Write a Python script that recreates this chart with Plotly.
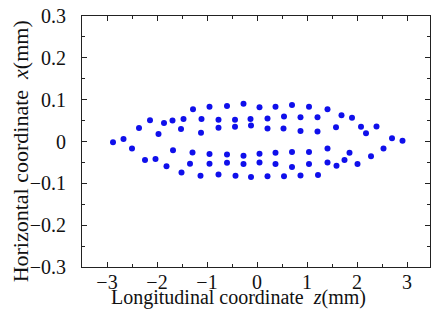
import plotly.graph_objects as go

# Longitudinal coordinate z (mm) and horizontal coordinate x (mm) of particles
z_upper = [-2.88, -2.67, -2.36, -2.14, -1.86, -1.69, -1.47, -1.28, -0.95, -0.60,
           -0.27, 0.05, 0.37, 0.70, 1.04, 1.41, 1.69, 1.90, 2.39, 2.70, 2.91,
           -1.11, -0.77, -0.44, -0.13, 0.21, 0.54, 0.87, 1.21,
           -1.97, -1.52, -1.12, -0.77, -0.44, -0.12, 0.21, 0.53, 0.87, 1.21,
           1.58, 2.08, 2.18]
x_upper = [-0.002, 0.006, 0.032, 0.051, 0.044, 0.050, 0.054, 0.077, 0.083, 0.085,
           0.090, 0.082, 0.083, 0.087, 0.083, 0.077, 0.063, 0.057, 0.036, 0.008, 0.002,
           0.054, 0.052, 0.052, 0.054, 0.055, 0.060, 0.058, 0.058,
           0.018, 0.030, 0.021, 0.033, 0.035, 0.038, 0.031, 0.031, 0.025, 0.024,
           0.034, 0.035, 0.020]
z_lower = [-2.50, -2.24, -2.03, -1.81, -1.68, -1.51, -1.34, -1.29, -1.13, -0.95,
           -0.95, -0.77, -0.60, -0.60, -0.43, -0.27, -0.27, -0.12, 0.05, 0.05,
           0.21, 0.37, 0.37, 0.54, 0.70, 0.70, 0.87, 1.04, 1.04, 1.22,
           1.41, 1.41, 1.59, 1.75, 1.85, 2.01, 2.28, 2.53]
x_lower = [-0.017, -0.044, -0.042, -0.059, -0.021, -0.074, -0.053, -0.026, -0.082, -0.030,
           -0.053, -0.079, -0.031, -0.051, -0.082, -0.034, -0.054, -0.085, -0.029, -0.050,
           -0.083, -0.027, -0.054, -0.083, -0.025, -0.061, -0.081, -0.025, -0.054, -0.080,
           -0.017, -0.050, -0.058, -0.044, -0.027, -0.054, -0.035, -0.017]

z_all = z_upper + z_lower
x_all = x_upper + x_lower

x_tickvals = [-3, -2, -1, 0, 1, 2, 3]
y_tickvals = [-0.3, -0.2, -0.1, 0, 0.1, 0.2, 0.3]
y_ticktext = ["\u22120.3", "\u22120.2", "\u22120.1", "0", "0.1", "0.2", "0.3"]
x_ticktext = ["\u22123", "\u22122", "\u22121", "0", "1", "2", "3"]

FONT = "Liberation Serif, Times New Roman, serif"

fig = go.Figure()
fig.add_trace(go.Scatter(
    x=z_all, y=x_all, mode="markers",
    marker=dict(color="rgb(15,15,235)", size=6, line=dict(width=0)),
    showlegend=False, hoverinfo="skip",
))

axis_common = dict(
    showgrid=False, zeroline=False, showline=True, linecolor="#222", linewidth=1,
    mirror="ticks", ticks="inside", ticklen=5, tickcolor="#222", tickwidth=1,
    tickfont=dict(family=FONT, size=20, color="#111"), automargin=False,
)
fig.update_xaxes(range=[-3.5, 3.46], tickvals=x_tickvals, ticktext=x_ticktext,
                 minor=dict(dtick=0.5, tick0=0, ticks="inside", ticklen=3, tickcolor="#222"),
                 ticklabelstandoff=-3,
                 **axis_common)
fig.update_yaxes(range=[-0.3, 0.3], tickvals=y_tickvals, ticktext=y_ticktext,
                 minor=dict(dtick=0.05, tick0=0, ticks="inside", ticklen=3, tickcolor="#222"),
                 ticklabelstandoff=11,
                 **axis_common)

fig.add_annotation(text="Longitudinal coordinate  <i>z</i>(mm)", xref="paper", yref="paper",
                   x=0.451, y=-0.066, xanchor="center", yanchor="top", showarrow=False,
                   font=dict(family=FONT, size=20, color="#111"))
fig.add_annotation(text="Horizontal coordinate  <i>x</i>(mm)", xref="paper", yref="paper",
                   x=-0.178, y=0.461, xanchor="center", yanchor="middle", textangle=-90,
                   showarrow=False, font=dict(family=FONT, size=22, color="#111"))

fig.update_layout(
    width=431, height=323,
    margin=dict(l=82, r=1, t=16, b=56),
    plot_bgcolor="white", paper_bgcolor="white",
)
fig.write_html("out.html", config={"displayModeBar": False},
               post_script="document.body.style.margin='0';")
